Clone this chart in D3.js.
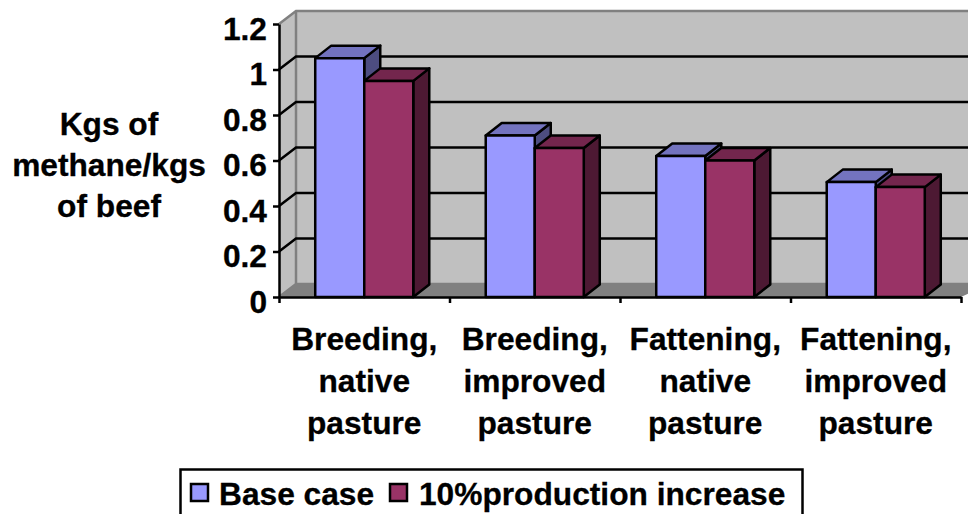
<!DOCTYPE html>
<html>
<head>
<meta charset="utf-8">
<script src="https://d3js.org/d3.v7.min.js"></script>
<style>
  html, body { margin: 0; padding: 0; background: #fff; }
  svg { display: block; overflow: hidden; }
  text { font-family: "Liberation Sans", Arial, sans-serif; font-weight: bold; fill: #000; stroke: #000; stroke-width: 0.3; }
</style>
</head>
<body>
<div id="chart"></div>
<script>
var categories = [
    ["Breeding,", "native", "pasture"],
    ["Breeding,", "improved", "pasture"],
    ["Fattening,", "native", "pasture"],
    ["Fattening,", "improved", "pasture"]
];
var seriesNames = ["Base case", "10%production increase"];
var baseCase = [1.05, 0.71, 0.62, 0.505];
var productionIncrease = [0.95, 0.655, 0.6, 0.483];
var yTicks = [0, 0.2, 0.4, 0.6, 0.8, 1, 1.2];
var yTitle = ["Kgs of", "methane/kgs", "of beef"];

var frontColors = ["#9999ff", "#993366"];
var topColors = ["#7373bf", "#73264d"];
var sideColors = ["#4d4d80", "#4d1933"];

var width = 968, height = 514;
var depthX = 17, depthY = -13; // 3d offset of the back wall
var barDepthX = 16, barDepthY = -12.5;

var svg = d3.select("#chart").append("svg").attr("width", width).attr("height", height);

var y = d3.scaleLinear().domain([0, 1.2]).range([297, 24]);
var x0 = d3.scaleBand().domain(d3.range(categories.length)).range([279, 961])
    .paddingInner(0.425).paddingOuter(0.2125);
var x1 = d3.scaleBand().domain([0, 1]).range([0, x0.bandwidth()]);
var xEdge = d3.scaleLinear().domain([0, categories.length]).range([279, 961]);

function poly(points) {
    return points.map(function (p) { return p.join(","); }).join(" ");
}

// walls and floor
var left = xEdge(0), right = xEdge(categories.length);
svg.append("polygon").attr("fill", "#c0c0c0")
    .attr("points", poly([[left + depthX, y(1.2) + depthY], [width, y(1.2) + depthY], [width, y(0) + depthY], [left + depthX, y(0) + depthY]]));
svg.append("polygon").attr("fill", "#c0c0c0")
    .attr("points", poly([[left, y(1.2)], [left + depthX, y(1.2) + depthY], [left + depthX, y(0) + depthY], [left, y(0)]]));
svg.append("polygon").attr("fill", "#808080")
    .attr("points", poly([[left, y(0)], [left + depthX, y(0) + depthY], [width + 20, y(0) + depthY], [right, y(0)]]));

// wall edges
svg.append("polyline").attr("fill", "none").attr("stroke", "#808080").attr("stroke-width", 2.5)
    .attr("points", poly([[left, y(1.2)], [left + depthX, y(1.2) + depthY], [width, y(1.2) + depthY]]));
svg.append("polyline").attr("fill", "none").attr("stroke", "#808080").attr("stroke-width", 2.5)
    .attr("points", poly([[left + depthX, y(1.2) + depthY], [left + depthX, y(0) + depthY], [left, y(0)]]));
svg.append("line").attr("stroke", "#808080").attr("stroke-width", 2.5)
    .attr("x1", left + depthX).attr("x2", width).attr("y1", y(0) + depthY).attr("y2", y(0) + depthY);

// gridlines
var grid = svg.append("g").attr("fill", "none").attr("stroke", "#000").attr("stroke-width", 2.5);
grid.selectAll("polyline").data(yTicks.filter(function (d) { return d > 0 && d < 1.2; })).enter().append("polyline")
    .attr("points", function (d) {
        return poly([[left, y(d)], [left + depthX, y(d) + depthY], [width, y(d) + depthY]]);
    });

// bars
var series = [baseCase, productionIncrease];
categories.forEach(function (c, i) {
    series.forEach(function (values, s) {
        var v = values[i];
        var bx = x0(i) + x1(s), bw = x1.bandwidth(), top = y(v), base = y(0);
        var g = svg.append("g").attr("stroke", "#000").attr("stroke-width", 2.5).attr("stroke-linejoin", "round");
        g.append("polygon").attr("fill", sideColors[s])
            .attr("points", poly([[bx + bw, top], [bx + bw + barDepthX, top + barDepthY], [bx + bw + barDepthX, base + barDepthY], [bx + bw, base]]));
        g.append("polygon").attr("fill", topColors[s])
            .attr("points", poly([[bx, top], [bx + barDepthX, top + barDepthY], [bx + bw + barDepthX, top + barDepthY], [bx + bw, top]]));
        g.append("rect").attr("fill", frontColors[s])
            .attr("x", bx).attr("y", top).attr("width", bw).attr("height", base - top);
    });
});

// axes
var yAxis = d3.axisLeft(y).tickValues(yTicks).tickSize(6).tickSizeOuter(0).tickFormat(function (d) { return String(d); });
var gy = svg.append("g").attr("transform", "translate(" + left + ",0)").call(yAxis);
gy.selectAll("path, line").attr("stroke", "#000").attr("stroke-width", 2.5);
gy.selectAll("text").attr("font-size", 31.7).attr("font-family", null).attr("dy", "0.48em").attr("x", -12);

var xAxis = d3.axisBottom(xEdge).tickValues(d3.range(categories.length + 1)).tickSize(6).tickSizeOuter(0).tickFormat("");
var gx = svg.append("g").attr("transform", "translate(0," + y(0) + ")").call(xAxis);
gx.selectAll("path, line").attr("stroke", "#000").attr("stroke-width", 2.5);

// category labels
var lineGap = 42;
var labels = svg.append("g").attr("text-anchor", "middle").attr("font-size", 31.7);
categories.forEach(function (lines, i) {
    lines.forEach(function (t, k) {
        labels.append("text").attr("x", xEdge(i + 0.5)).attr("y", 350 + k * lineGap).text(t);
    });
});

// y title
var title = svg.append("g").attr("text-anchor", "middle").attr("font-size", 31.7);
yTitle.forEach(function (t, k) {
    title.append("text").attr("x", 109).attr("y", 135 + k * 41).text(t);
});

// legend, its bottom edge falls outside the picture
svg.append("rect").attr("x", 180.5).attr("y", 469.5).attr("width", 622).attr("height", 60)
    .attr("fill", "#fff").attr("stroke", "#000").attr("stroke-width", 2.5);
var legendX = [191, 390], legendTextX = [219, 419];
seriesNames.forEach(function (n, s) {
    svg.append("rect").attr("x", legendX[s]).attr("y", 484).attr("width", 17).attr("height", 17)
        .attr("fill", frontColors[s]).attr("stroke", "#000").attr("stroke-width", 2.5);
    svg.append("text").attr("x", legendTextX[s]).attr("y", 505).attr("font-size", 31.7).text(n);
});
</script>
</body>
</html>
